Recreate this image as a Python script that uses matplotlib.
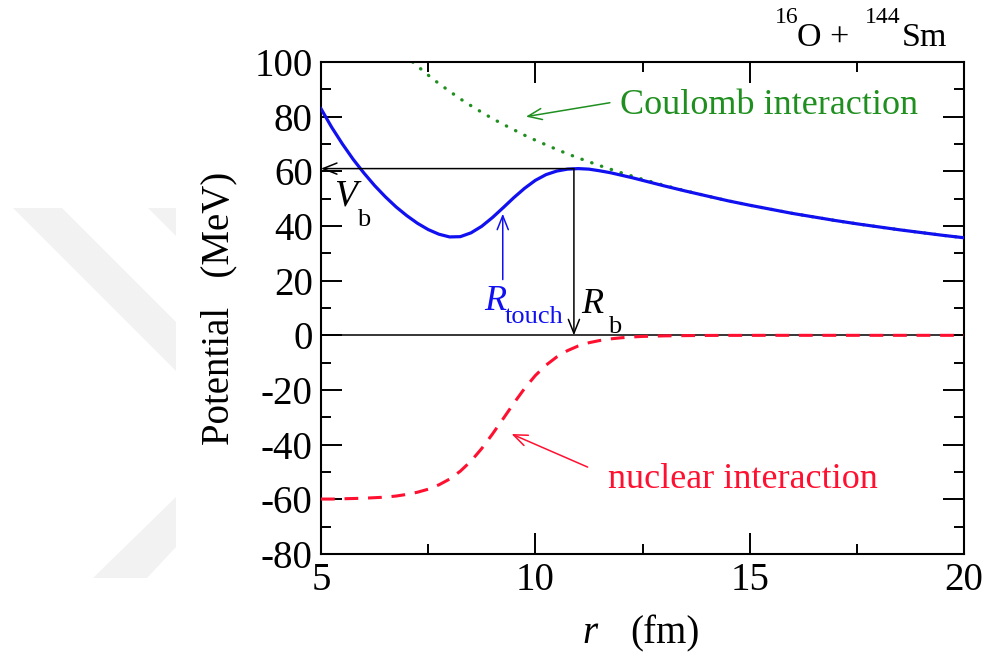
import matplotlib
matplotlib.use("Agg")
import matplotlib.pyplot as plt
from matplotlib.patches import FancyArrowPatch, Polygon
from matplotlib.ticker import MultipleLocator

# ---- data (r in fm, potentials in MeV) ----
r_grid = [5.0, 5.25, 5.5, 5.75, 6.0, 6.25, 6.5, 6.75, 7.0, 7.25, 7.5, 7.75,
          8.0, 8.25, 8.5, 8.75, 9.0, 9.25, 9.5, 9.75, 10.0, 10.25, 10.5, 10.75,
          11.0, 11.25, 11.5, 11.75, 12.0, 12.25, 12.5, 12.75, 13.0,
          13.5, 14.0, 14.5, 15.0, 15.5, 16.0, 16.5, 17.0, 17.5, 18.0, 18.5,
          19.0, 19.5, 20.0]

v_total = [82.9, 76.1, 70.0, 64.4, 59.4, 54.8, 50.7, 47.0, 43.8, 41.0, 38.7, 37.0,
           36.0, 36.1, 37.5, 39.9, 43.1, 46.7, 50.4, 53.8, 56.7, 58.8, 60.1, 60.8,
           61.0, 60.8, 60.2, 59.5, 58.6, 57.7, 56.7, 55.7, 54.7,
           52.8, 51.0, 49.2, 47.6, 46.1, 44.6, 43.3, 42.0, 40.8, 39.7, 38.6,
           37.6, 36.6, 35.7]

v_nuclear = [-59.9, -59.9, -59.8, -59.7, -59.6, -59.4, -59.2, -58.8, -58.2, -57.4, -56.3, -54.7,
             -52.6, -49.7, -46.0, -41.4, -36.1, -30.5, -24.8, -19.4, -14.7, -10.9, -7.9, -5.6,
             -3.9, -2.7, -1.9, -1.3, -0.9, -0.6, -0.4, -0.3, -0.2,
             -0.1, -0.04, -0.02, -0.01, 0.0, 0.0, 0.0, 0.0, 0.0, 0.0, 0.0,
             0.0, 0.0, 0.0]

r_coul = [7.14, 7.25, 7.5, 7.75, 8.0, 8.25, 8.5, 8.75, 9.0, 9.25, 9.5, 9.75,
          10.0, 10.25, 10.5, 10.75, 11.0, 11.25, 11.5, 11.75, 12.0, 12.25, 12.5,
          12.75, 13.0, 13.5, 14.0, 14.5, 15.0, 15.5, 16.0, 16.5, 17.0, 17.5,
          18.0, 18.5, 19.0, 19.5, 20.0]
v_coul = [100.0, 98.5, 95.2, 92.1, 89.3, 86.5, 84.0, 81.6, 79.3, 77.2, 75.2, 73.2,
          71.4, 69.7, 68.0, 66.4, 64.9, 63.5, 62.1, 60.8, 59.5, 58.3, 57.1,
          56.0, 54.9, 52.9, 51.0, 49.2, 47.6, 46.1, 44.6, 43.3, 42.0, 40.8,
          39.7, 38.6, 37.6, 36.6, 35.7]

r_barrier, v_barrier = 10.9, 61.0
r_touch, v_touch_tip, v_touch_tail = 9.24, 44.5, 20.4

x_ticks = [5, 10, 15, 20]
y_ticks = [-80, -60, -40, -20, 0, 20, 40, 60, 80, 100]

# ---- style ----
plt.rcParams["font.family"] = ["Liberation Serif", "DejaVu Serif"]

BLUE = "#1010f0"
RED = "#ff1030"
GREEN = "#1f8f1f"

W, H = 989, 657
fig = plt.figure(figsize=(W / 100, H / 100), dpi=100)


def fx(x):
    return x / W


def fy(y):
    return 1 - y / H


# light grey diagonal logo bands behind the figure
bands = [
    [(13, 208), (62, 208), (176, 322), (176, 371)],
    [(148, 208), (176, 208), (176, 236)],
    [(176, 497), (176, 547), (147, 578), (93, 578)],
]
for pts in bands:
    fig.patches.append(Polygon([(fx(x), fy(y)) for x, y in pts], closed=True,
                               transform=fig.transFigure,
                               facecolor="#f2f2f2", edgecolor="none", zorder=0))

ax = fig.add_axes([fx(321), fy(554), (964 - 321) / W, (554 - 62) / H])
ax.patch.set_alpha(0)

# curves
ax.plot(r_coul, v_coul, color=GREEN, lw=2.4, linestyle=(0, (0.1, 3.0)),
        dash_capstyle="round", zorder=2)
ax.plot(r_grid, v_nuclear, color=RED, lw=2.2, linestyle=(0, (4.5, 3.2)), zorder=3)
ax.plot(r_grid, v_total, color=BLUE, lw=2.3, zorder=4)

ax.axhline(0, color="black", lw=1.1, zorder=1)


def arrow(p0, p1, color, lw=1.1):
    a = FancyArrowPatch(p0, p1, arrowstyle="->,head_length=0.5,head_width=0.2",
                        mutation_scale=20, color=color, lw=lw,
                        shrinkA=0, shrinkB=0, zorder=5)
    ax.add_patch(a)


# barrier height and radius
arrow((r_barrier, v_barrier), (5.0, v_barrier), "black")
arrow((r_barrier, v_barrier), (r_barrier, 0.0), "black")
# touching radius
arrow((r_touch, v_touch_tail), (r_touch, v_touch_tip), BLUE)
# pointers from the labels to the curves
arrow((11.74, 85.1), (9.78, 80.0), GREEN)
arrow((11.22, -48.2), (9.445, -36.1), RED)

ax.text(11.97, 81.0, "Coulomb interaction", color=GREEN, fontsize=26,
        ha="left", va="baseline")
ax.text(11.69, -55.9, "nuclear interaction", color=RED, fontsize=26,
        ha="left", va="baseline")

ax.text(5.30, 47.4, "V", fontstyle="italic", fontsize=27, ha="left", va="baseline")
ax.text(5.84, 40.1, "b", fontsize=19, ha="left", va="baseline")
ax.text(8.80, 9.1, "R", fontstyle="italic", fontsize=26, color=BLUE, ha="left", va="baseline")
ax.text(9.29, 4.4, "touch", fontsize=19, color=BLUE, ha="left", va="baseline")
ax.text(11.08, 8.0, "R", fontstyle="italic", fontsize=26, ha="left", va="baseline")
ax.text(11.69, 0.7, "b", fontsize=19, ha="left", va="baseline")

# reaction title with mass numbers as raised text
fig.text(fx(775), fy(23), "16", fontsize=17, ha="left", va="baseline")
fig.text(fx(797), fy(46), "O +", fontsize=24.5, ha="left", va="baseline")
fig.text(fx(865), fy(23), "144", fontsize=17, ha="left", va="baseline")
fig.text(fx(902), fy(46), "Sm", fontsize=24.5, ha="left", va="baseline")

# axes
ax.set_xlim(5, 20)
ax.set_ylim(-80, 100)
ax.set_xticks(x_ticks)
ax.set_yticks(y_ticks)
ax.set_xticklabels([str(t) for t in x_ticks])
ax.set_yticklabels([str(t) for t in y_ticks])
ax.xaxis.set_minor_locator(MultipleLocator(2.5))
ax.yaxis.set_minor_locator(MultipleLocator(10))
ax.tick_params(which="both", direction="in", top=True, right=True, width=1.4,
               labelsize=28, colors="black")
ax.tick_params(which="major", length=15)
ax.tick_params(which="minor", length=7.5)
ax.tick_params(axis="y", pad=6)
ax.tick_params(axis="x", pad=6)
for s in ax.spines.values():
    s.set_linewidth(1.5)

ax.set_ylabel("Potential   (MeV)", fontsize=28)
ax.yaxis.set_label_coords(-0.13, 0.5)
fig.text(fx(582), fy(643), "r", fontstyle="italic", fontsize=28, ha="left", va="baseline")
fig.text(fx(630), fy(643), "(fm)", fontsize=28, ha="left", va="baseline")

fig.savefig("out.png", dpi=100)
